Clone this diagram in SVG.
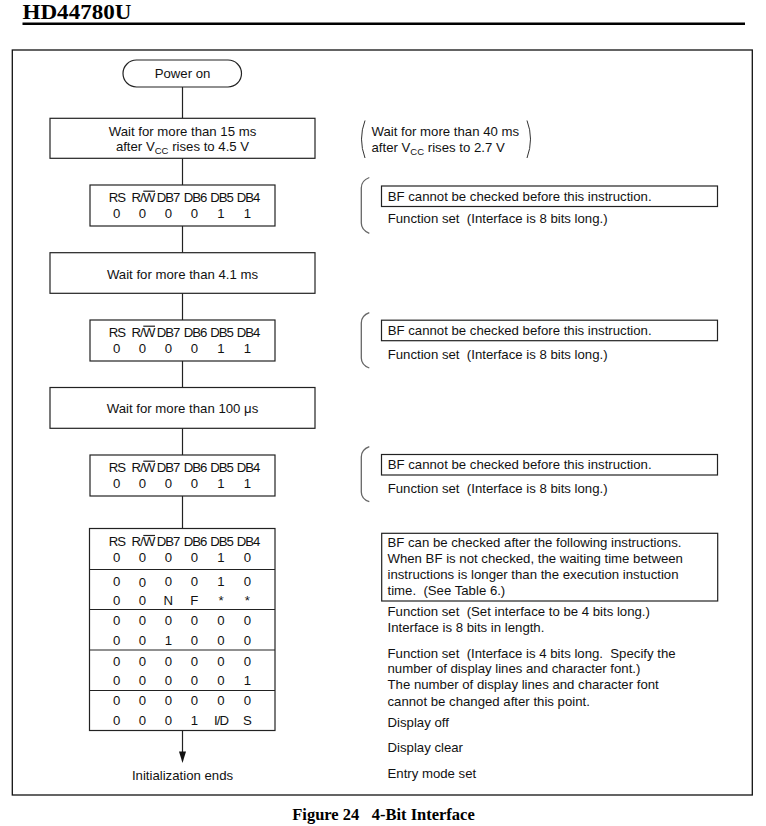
<svg xmlns="http://www.w3.org/2000/svg" width="766" height="826" viewBox="0 0 766 826">
<style>
text{font-family:"Liberation Sans",Arial,sans-serif;font-size:13.2px;fill:#111;white-space:pre}
.c{text-anchor:middle}
.h{letter-spacing:-1px}
.hw{letter-spacing:-0.8px}
.box{fill:#fff;stroke:#222;stroke-width:1.2}
.ln{stroke:#222;stroke-width:1.2;fill:none}
.br{stroke:#666;stroke-width:1.3;fill:none}
.par{stroke:#333;stroke-width:1;fill:none}
.sub{font-size:9.5px}
.title{font-family:"Liberation Serif","Times New Roman",serif;font-weight:bold;fill:#000;font-size:21px}
.cap{font-family:"Liberation Serif","Times New Roman",serif;font-weight:bold;fill:#000;font-size:16.5px;text-anchor:middle}
</style>
<rect width="766" height="826" fill="#fff"/>
<text class="title" x="22.5" y="18.8" textLength="109" lengthAdjust="spacingAndGlyphs">HD44780U</text>
<line x1="22.5" y1="23.8" x2="745" y2="23.8" stroke="#000" stroke-width="2.5"/>
<rect x="12.3" y="50" width="740" height="745" fill="none" stroke="#111" stroke-width="1.3"/>

<g id="connectors">
<line class="ln" x1="182.5" y1="87" x2="182.5" y2="118"/>
<line class="ln" x1="182.5" y1="158" x2="182.5" y2="185"/>
<line class="ln" x1="182.5" y1="226" x2="182.5" y2="253"/>
<line class="ln" x1="182.5" y1="293" x2="182.5" y2="320"/>
<line class="ln" x1="182.5" y1="361" x2="182.5" y2="387.5"/>
<line class="ln" x1="182.5" y1="428" x2="182.5" y2="455"/>
<line class="ln" x1="182.5" y1="496" x2="182.5" y2="528.5"/>
<line class="ln" x1="182.5" y1="730.5" x2="182.5" y2="752"/>
<path d="M179,751.5 L186,751.5 L182.5,763 Z" fill="#111"/>
</g>

<g id="power-on">
<rect class="box" x="123" y="60" width="118.5" height="27" rx="13.5"/>
<text class="c" x="182.5" y="78">Power on</text>
</g>

<g id="wait15">
<rect class="box" x="50" y="118.3" width="265" height="40"/>
<text class="c" x="182.5" y="135.7">Wait for more than 15 ms</text>
<text class="c" x="182.5" y="150.7">after V<tspan class="sub" dy="3">CC</tspan><tspan dy="-3"> rises to 4.5 V</tspan></text>
</g>

<g id="note-wait40">
<path class="par" d="M365,120.5 Q358,139 365,158"/>
<path class="par" d="M527,120.5 Q534,139 527,158"/>
<text x="371.5" y="136">Wait for more than 40 ms</text>
<text x="371.5" y="151.7">after V<tspan class="sub" dy="3">CC</tspan><tspan dy="-3"> rises to 2.7 V</tspan></text>
</g>

<g id="instr1">
<rect class="box" x="90" y="185" width="185" height="41"/>
<text class="c h" x="117" y="201.7">RS</text>
<text class="c hw" x="143" y="201.7">R/W</text>
<line class="ln" x1="143.3" y1="191.2" x2="155" y2="191.2" stroke-width="1"/>
<text class="c h" x="168" y="201.7">DB7</text>
<text class="c h" x="195" y="201.7">DB6</text>
<text class="c h" x="221.5" y="201.7">DB5</text>
<text class="c h" x="248" y="201.7">DB4</text>
<text class="c" x="116.7" y="217.7">0</text>
<text class="c" x="142.3" y="217.7">0</text>
<text class="c" x="168.3" y="217.7">0</text>
<text class="c" x="194.3" y="217.7">0</text>
<text class="c" x="221" y="217.7">1</text>
<text class="c" x="247.3" y="217.7">1</text>
</g>

<g id="note1">
<path class="br" d="M369.3,177.5 Q361.3,180.5 361.3,188 L361.3,223 Q361.3,230 369.3,233.3"/>
<rect class="box" x="381.5" y="186" width="336" height="20.5"/>
<text x="387.7" y="200.7">BF cannot be checked before this instruction.</text>
<text x="387.7" y="223.3">Function set  (Interface is 8 bits long.)</text>
</g>

<g id="wait41">
<rect class="box" x="50" y="252.7" width="265" height="40.6"/>
<text class="c" x="182.5" y="279.3">Wait for more than 4.1 ms</text>
</g>

<g id="instr2">
<rect class="box" x="90" y="320" width="185" height="41"/>
<text class="c h" x="117" y="336.7">RS</text>
<text class="c hw" x="143" y="336.7">R/W</text>
<line class="ln" x1="143.3" y1="326.2" x2="155" y2="326.2" stroke-width="1"/>
<text class="c h" x="168" y="336.7">DB7</text>
<text class="c h" x="195" y="336.7">DB6</text>
<text class="c h" x="221.5" y="336.7">DB5</text>
<text class="c h" x="248" y="336.7">DB4</text>
<text class="c" x="116.7" y="352.7">0</text>
<text class="c" x="142.3" y="352.7">0</text>
<text class="c" x="168.3" y="352.7">0</text>
<text class="c" x="194.3" y="352.7">0</text>
<text class="c" x="221" y="352.7">1</text>
<text class="c" x="247.3" y="352.7">1</text>
</g>

<g id="note2">
<path class="br" d="M369.3,312.7 Q361.3,315.7 361.3,323 L361.3,358 Q361.3,365 369.3,368"/>
<rect class="box" x="381.5" y="320.2" width="336" height="20.5"/>
<text x="387.7" y="335">BF cannot be checked before this instruction.</text>
<text x="387.7" y="359.3">Function set  (Interface is 8 bits long.)</text>
</g>

<g id="wait100">
<rect class="box" x="50" y="387.5" width="265" height="40.8"/>
<text class="c" x="182.5" y="412.7">Wait for more than 100 μs</text>
</g>

<g id="instr3">
<rect class="box" x="90" y="455" width="185" height="41"/>
<text class="c h" x="117" y="471.7">RS</text>
<text class="c hw" x="143" y="471.7">R/W</text>
<line class="ln" x1="143.3" y1="461.2" x2="155" y2="461.2" stroke-width="1"/>
<text class="c h" x="168" y="471.7">DB7</text>
<text class="c h" x="195" y="471.7">DB6</text>
<text class="c h" x="221.5" y="471.7">DB5</text>
<text class="c h" x="248" y="471.7">DB4</text>
<text class="c" x="116.7" y="488">0</text>
<text class="c" x="142.3" y="488">0</text>
<text class="c" x="168.3" y="488">0</text>
<text class="c" x="194.3" y="488">0</text>
<text class="c" x="221" y="488">1</text>
<text class="c" x="247.3" y="488">1</text>
</g>

<g id="note3">
<path class="br" d="M369.3,446.7 Q361.3,449.7 361.3,457 L361.3,492 Q361.3,499 369.3,501.7"/>
<rect class="box" x="381.5" y="454.5" width="336" height="20.5"/>
<text x="387.7" y="469.3">BF cannot be checked before this instruction.</text>
<text x="387.7" y="493.3">Function set  (Interface is 8 bits long.)</text>
</g>

<g id="instr4bit">
<rect class="box" x="89.5" y="528.5" width="185.5" height="202"/>
<line class="ln" x1="89.5" y1="569.5" x2="275" y2="569.5"/>
<line class="ln" x1="89.5" y1="609.5" x2="275" y2="609.5"/>
<line class="ln" x1="89.5" y1="650" x2="275" y2="650"/>
<line class="ln" x1="89.5" y1="690.5" x2="275" y2="690.5"/>
<text class="c h" x="117" y="546">RS</text>
<text class="c hw" x="143" y="546">R/W</text>
<line class="ln" x1="143.3" y1="535.5" x2="155" y2="535.5" stroke-width="1"/>
<text class="c h" x="168" y="546">DB7</text>
<text class="c h" x="195" y="546">DB6</text>
<text class="c h" x="221.5" y="546">DB5</text>
<text class="c h" x="248" y="546">DB4</text>
<g>
<text class="c" x="116.7" y="561.5">0</text><text class="c" x="142.3" y="561.5">0</text><text class="c" x="168.3" y="561.5">0</text><text class="c" x="194.3" y="561.5">0</text><text class="c" x="221" y="561.5">1</text><text class="c" x="247.3" y="561.5">0</text>
<text class="c" x="116.7" y="585.7">0</text><text class="c" x="142.3" y="586.5">0</text><text class="c" x="168.3" y="585.7">0</text><text class="c" x="194.3" y="585.7">0</text><text class="c" x="221" y="585.7">1</text><text class="c" x="247.3" y="585.7">0</text>
<text class="c" x="116.7" y="605">0</text><text class="c" x="142.3" y="605">0</text><text class="c" x="168.3" y="605">N</text><text class="c" x="194.3" y="605">F</text><text class="c" x="221" y="605">*</text><text class="c" x="247.3" y="605">*</text>
<text class="c" x="116.7" y="625">0</text><text class="c" x="142.3" y="625">0</text><text class="c" x="168.3" y="625">0</text><text class="c" x="194.3" y="625">0</text><text class="c" x="221" y="625">0</text><text class="c" x="247.3" y="625">0</text>
<text class="c" x="116.7" y="645">0</text><text class="c" x="142.3" y="645">0</text><text class="c" x="168.3" y="645">1</text><text class="c" x="194.3" y="645">0</text><text class="c" x="221" y="645">0</text><text class="c" x="247.3" y="645">0</text>
<text class="c" x="116.7" y="665.7">0</text><text class="c" x="142.3" y="665.7">0</text><text class="c" x="168.3" y="665.7">0</text><text class="c" x="194.3" y="665.7">0</text><text class="c" x="221" y="665.7">0</text><text class="c" x="247.3" y="665.7">0</text>
<text class="c" x="116.7" y="685">0</text><text class="c" x="142.3" y="685">0</text><text class="c" x="168.3" y="685">0</text><text class="c" x="194.3" y="685">0</text><text class="c" x="221" y="685">0</text><text class="c" x="247.3" y="685">1</text>
<text class="c" x="116.7" y="705">0</text><text class="c" x="142.3" y="705">0</text><text class="c" x="168.3" y="705">0</text><text class="c" x="194.3" y="705">0</text><text class="c" x="221" y="705">0</text><text class="c" x="247.3" y="705">0</text>
<text class="c" x="116.7" y="725">0</text><text class="c" x="142.3" y="725">0</text><text class="c" x="168.3" y="725">0</text><text class="c" x="194.3" y="725">1</text><text class="c h" x="221" y="725">I/D</text><text class="c" x="247.3" y="725">S</text>
</g>
</g>

<g id="note4bit">
<rect class="box" x="381.7" y="533.3" width="336" height="67.7"/>
<text x="387.5" y="546.7">BF can be checked after the following instructions.</text>
<text x="387.5" y="562.7">When BF is not checked, the waiting time between</text>
<text x="387.5" y="579">instructions is longer than the execution instuction</text>
<text x="387.5" y="595">time.  (See Table 6.)</text>
<text x="387.5" y="616">Function set  (Set interface to be 4 bits long.)</text>
<text x="387.5" y="631.7">Interface is 8 bits in length.</text>
<text x="387.5" y="658.3">Function set  (Interface is 4 bits long.  Specify the</text>
<text x="387.5" y="673.3">number of display lines and character font.)</text>
<text x="387.5" y="689.3">The number of display lines and character font</text>
<text x="387.5" y="705.7">cannot be changed after this point.</text>
<text x="387.5" y="727.3">Display off</text>
<text x="387.5" y="752.3">Display clear</text>
<text x="387.5" y="777.7">Entry mode set</text>
</g>

<g id="init-ends">
<text class="c" x="182.5" y="780">Initialization ends</text>
</g>

<text class="cap" x="383.5" y="820">Figure 24   4-Bit Interface</text>
</svg>
